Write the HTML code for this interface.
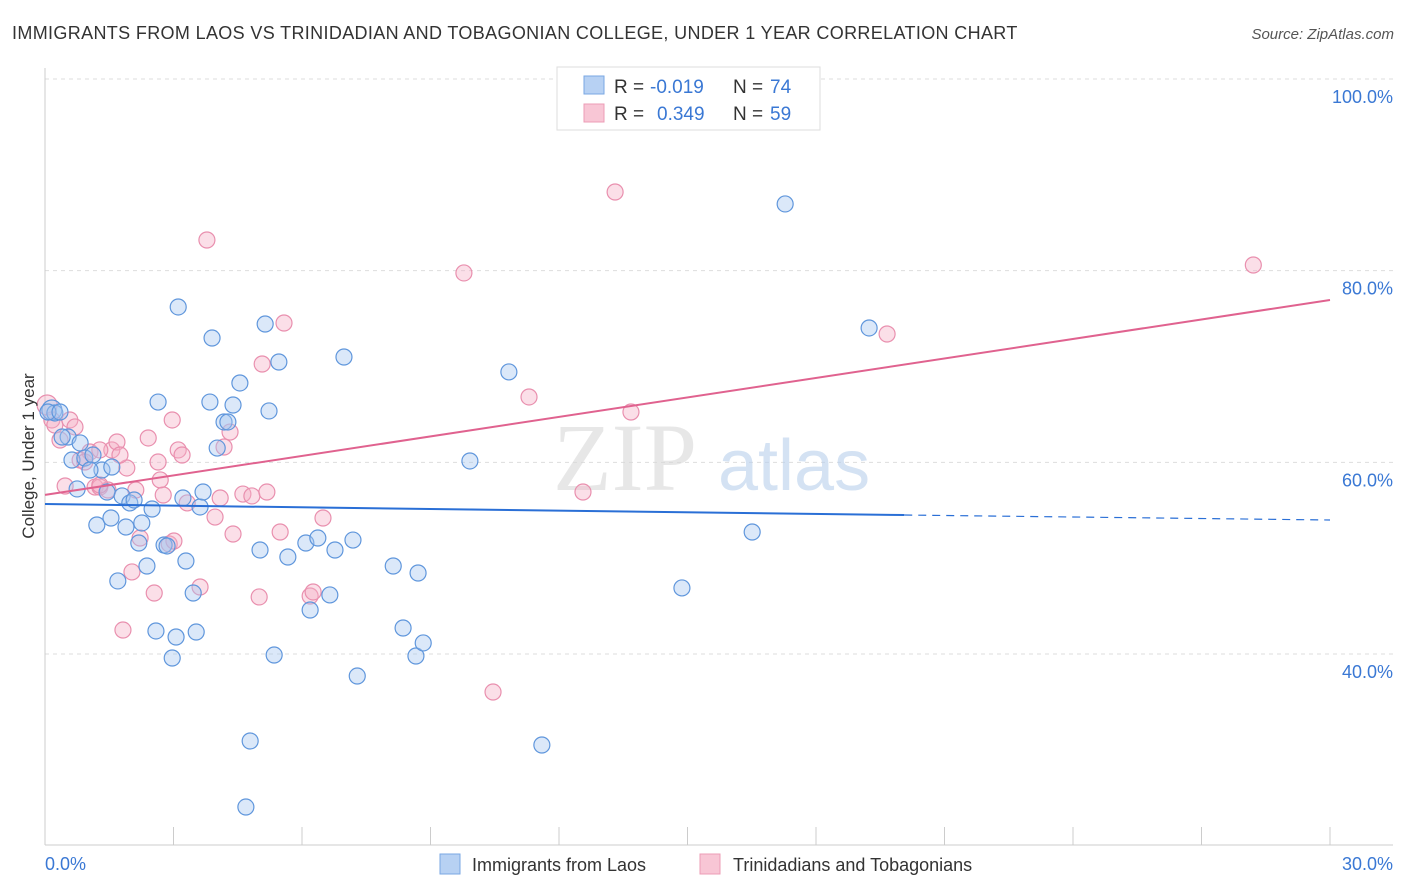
<!DOCTYPE html>
<html><head><meta charset="utf-8"><style>
body{margin:0;background:#fff;font-family:"Liberation Sans",sans-serif;}
</style></head><body>
<svg id="chart" width="1406" height="892" xmlns="http://www.w3.org/2000/svg" style="display:block">
<text x="12" y="39" font-size="18" fill="#333" letter-spacing="0.35">IMMIGRANTS FROM LAOS VS TRINIDADIAN AND TOBAGONIAN COLLEGE, UNDER 1 YEAR CORRELATION CHART</text>
<text x="1394" y="39" font-size="15" fill="#555" text-anchor="end" font-style="italic">Source: ZipAtlas.com</text>
<g id="grid"></g>
<text x="553" y="490" font-size="96" fill="#d8d8d8" font-family="Liberation Serif,serif" opacity="0.6">ZIP</text>
<text x="718" y="490" font-size="72" fill="#b8d0ec" opacity="0.6">atlas</text>
<g id="points"></g>
<g id="trends"></g>
<text transform="translate(34,456) rotate(-90)" font-size="17" fill="#333" text-anchor="middle">College, Under 1 year</text>
<text x="45" y="870" font-size="18" fill="#3a78d4">0.0%</text>
<text x="1393" y="870" font-size="18" fill="#3a78d4" text-anchor="end">30.0%</text>
<g>
<rect x="557" y="67" width="263" height="63" fill="#fff" stroke="#ddd"/>
<rect x="584" y="76" width="20" height="18" fill="#b7d1f3" stroke="#7aa7e3"/>
<rect x="584" y="104" width="20" height="18" fill="#f8c6d5" stroke="#ec9cb6"/>
<text x="614" y="93" font-size="19" fill="#333">R =</text>
<text x="650" y="93" font-size="19" fill="#3a78d4">-0.019</text>
<text x="733" y="93" font-size="19" fill="#333">N =</text>
<text x="770" y="93" font-size="19" fill="#3a78d4">74</text>
<text x="614" y="120" font-size="19" fill="#333">R =</text>
<text x="657" y="120" font-size="19" fill="#3a78d4">0.349</text>
<text x="733" y="120" font-size="19" fill="#333">N =</text>
<text x="770" y="120" font-size="19" fill="#3a78d4">59</text>
</g>
<g>
<rect x="440" y="854" width="20" height="20" fill="#b7d1f3" stroke="#7aa7e3"/>
<text x="472" y="871" font-size="18" fill="#333">Immigrants from Laos</text>
<rect x="700" y="854" width="20" height="20" fill="#f8c6d5" stroke="#ec9cb6"/>
<text x="733" y="871" font-size="18" fill="#333">Trinidadians and Tobagonians</text>
</g>
</svg>
<script>
const yTicks=[100,80,60,40];
const yTickLabels=["100.0%","80.0%","60.0%","40.0%"];
const xTicks=[0,3,6,9,12,15,18,21,24,27,30];
const blueX=[0.16,0.23,0.54,0.63,0.82,0.75,0.93,1.12,1.21,1.33,1.45,1.56,1.54,1.70,1.80,1.89,1.98,2.08,2.19,2.26,2.38,2.50,2.59,2.64,2.78,2.85,2.97,3.06,3.11,3.22,3.29,3.46,3.53,3.62,3.69,3.85,3.90,4.02,4.18,4.27,4.39,4.55,4.79,4.69,5.02,5.14,5.23,5.35,5.46,5.67,6.09,6.19,6.37,6.65,6.77,6.98,7.19,7.29,8.13,8.36,8.71,8.66,8.83,9.92,10.83,11.60,14.87,16.51,17.28,19.24,0.07,0.35,1.05,0.40];
const blueY=[65.46,65.15,62.64,60.24,62.02,57.22,60.45,60.76,53.46,59.20,56.90,59.51,54.19,47.62,56.49,53.25,55.76,56.07,51.58,53.67,49.18,55.13,42.40,66.29,51.37,51.27,39.58,41.77,76.21,56.28,49.70,46.36,42.29,55.34,56.90,66.29,72.97,61.49,64.21,64.21,65.98,68.28,30.92,24.03,50.85,74.43,65.36,39.89,70.47,50.12,51.58,44.59,52.10,46.16,50.85,70.99,51.89,37.70,49.18,42.71,48.45,39.79,41.15,60.14,69.43,30.50,46.89,52.73,86.96,74.02,65.25,65.25,59.20,62.64];
const pinkX=[0.05,0.16,0.23,0.47,0.58,0.70,0.82,1.05,1.17,1.28,1.47,1.56,1.68,1.82,1.91,2.03,2.12,2.22,2.41,2.55,2.64,2.76,2.90,2.97,3.01,3.11,3.20,3.32,3.62,3.78,3.97,4.09,4.18,4.32,4.39,4.62,4.83,5.00,5.07,5.18,5.49,5.58,6.19,6.26,6.49,9.78,10.46,11.30,12.56,13.31,13.68,19.66,28.21,1.28,0.93,1.75,2.69,0.35,1.28];
const pinkY=[65.98,64.42,63.89,57.53,64.42,63.69,60.24,61.08,57.42,57.42,57.11,61.29,62.12,42.50,59.41,48.56,57.11,52.10,62.54,46.36,60.03,56.59,51.48,64.42,51.79,61.29,60.76,55.76,46.99,83.20,54.29,56.28,61.60,63.16,52.52,56.69,56.49,45.95,70.26,56.90,52.73,74.54,46.05,46.47,54.19,79.76,36.03,66.82,56.90,88.21,65.25,73.39,80.59,61.29,60.03,60.76,58.16,62.33,57.63];
const blueTrend=[55.65,54.5,53.98]; // at x=0, 20.06, 30
const pinkTrend=[56.6,76.94]; // at x=0, 30
const NS="http://www.w3.org/2000/svg";
const xs=v=>45+v/30*1285;
const ys=v=>79+(100-v)*9.583;
function mk(t,a,p){const e=document.createElementNS(NS,t);for(const k in a)e.setAttribute(k,a[k]);p.appendChild(e);return e;}
const grid=document.getElementById('grid');
yTicks.forEach((t,i)=>{
 const l=mk('line',{x1:45,x2:1393,y1:ys(t),y2:ys(t),stroke:'#ddd','stroke-dasharray':'4,4'},grid);
 
 
 const tx=mk('text',{x:1393,y:ys(t)+24,'font-size':18,fill:'#3a78d4','text-anchor':'end'},grid);
 tx.textContent=yTickLabels[i];
 
 
});
const ax=mk('line',{x1:45,x2:1393,y1:845,y2:845,stroke:'#ccc'},grid);


const ay=mk('line',{x1:45,x2:45,y1:68,y2:845,stroke:'#ccc'},grid);


xTicks.forEach(t=>{
 const l=mk('line',{x1:xs(t),x2:xs(t),y1:827,y2:845,stroke:'#ccc'},grid);
 
 
});
const pts=document.getElementById('points');
function drawPts(X,Y,fill,stroke,name){
 X.forEach((x,i)=>{
  const c=mk('circle',{cx:xs(x),cy:ys(Y[i]),r:(i==0?10:8),fill:fill,'fill-opacity':0.4,stroke:stroke,'stroke-width':1.2},pts);
  
  
 });
}
drawPts(pinkX,pinkY,'#f5b0c6','#e98fae','pink-point');
drawPts(blueX,blueY,'#a5c6f0','#5f96dc','blue-point');
const tr=document.getElementById('trends');
let b1=mk('line',{x1:xs(0),y1:ys(blueTrend[0]),x2:xs(20.06),y2:ys(blueTrend[1]),stroke:'#2a6fd6','stroke-width':2},tr);


let b2=mk('line',{x1:xs(20.06),y1:ys(blueTrend[1]),x2:xs(30),y2:ys(blueTrend[2]),stroke:'#2a6fd6','stroke-width':1.2,'stroke-dasharray':'8,6'},tr);


let p1=mk('line',{x1:xs(0),y1:ys(pinkTrend[0]),x2:xs(30),y2:ys(pinkTrend[1]),stroke:'#e0628f','stroke-width':2},tr);


</script>
</body></html>
